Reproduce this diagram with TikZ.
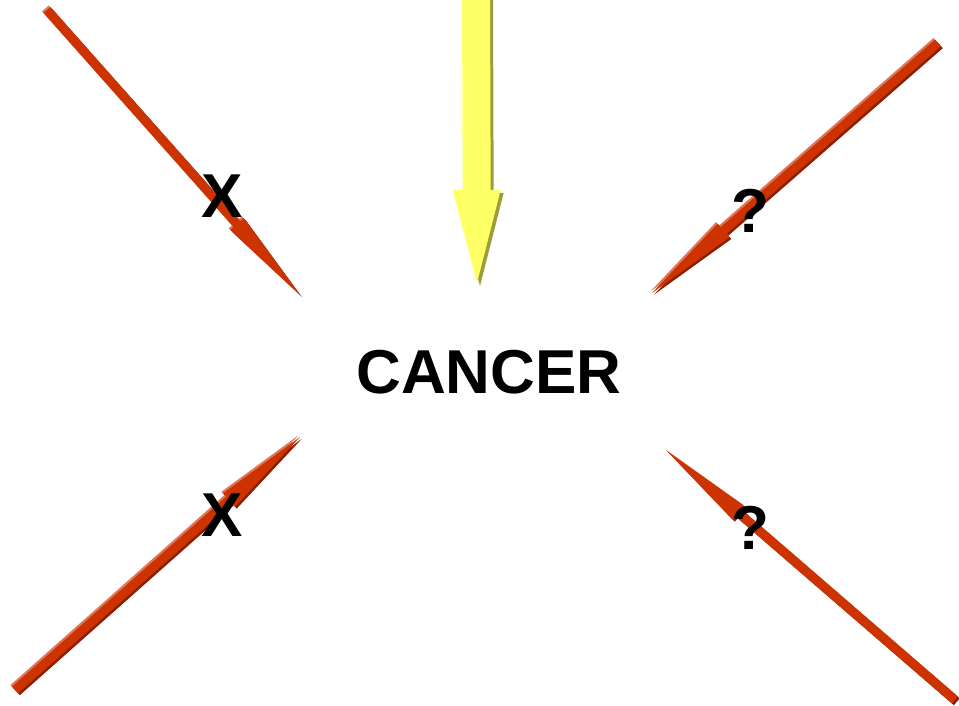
\documentclass[tikz,border=0pt]{standalone}
\usepackage{fontspec}
\setmainfont{Liberation Sans}
\usetikzlibrary{arrows.meta}
\definecolor{rmain}{HTML}{CC3300}
\definecolor{rdark}{HTML}{8B1E00}
\definecolor{rlight}{HTML}{E0775A}
\definecolor{ymain}{HTML}{FFFF66}
\definecolor{ydark}{HTML}{9C9C3A}
\tikzset{
  redarr/.style={line width=9pt, -{Triangle[length=95pt,width=18pt,line width=0pt]}},
  yelarr/.style={line width=28pt, -{Triangle[length=93pt,width=48pt,line width=0pt]}},
  lbl/.style={font=\bfseries\fontsize{62}{62}\selectfont, inner sep=0pt}
}
\newcommand{\myredarrow}[2]{%
  \draw[redarr, rdark, transform canvas={shift={(1.8pt,-1.8pt)}}] (#1) -- (#2);
  \draw[redarr, rlight, transform canvas={shift={(-1.6pt,1.6pt)}}] (#1) -- (#2);
  \draw[redarr, rmain] (#1) -- (#2);}
\begin{document}
\begin{tikzpicture}[x=1pt,y=-1pt]
\useasboundingbox[fill=white] (0,0) rectangle (959,705);
% coordinates
\coordinate (tlA) at (47,10);   \coordinate (tlB) at (300,295);
\coordinate (trA) at (938,43);  \coordinate (trB) at (652,293);
\coordinate (blA) at (15,690);  \coordinate (blB) at (300,437);
\coordinate (brA) at (955,700); \coordinate (brB) at (667,451);
\coordinate (yA) at (476,-5);   \coordinate (yB) at (477,283);
% yellow arrow
\draw[yelarr, ydark, transform canvas={shift={(3pt,-3pt)}}] (yA) -- (yB);
\draw[yelarr, ymain] (yA) -- (yB);
% red arrows
\myredarrow{tlA}{tlB}
\myredarrow{trA}{trB}
\myredarrow{blA}{blB}
\myredarrow{brA}{brB}
% labels
\node[lbl] (cancer) at (489,372) {CANCER};
\node[lbl] (x1) at (222,196) {X};
\node[lbl] (x2) at (222,515) {X};
\node[lbl] (q1) at (750,211) {?};
\node[lbl] (q2) at (750,528) {?};
\end{tikzpicture}
\end{document}
